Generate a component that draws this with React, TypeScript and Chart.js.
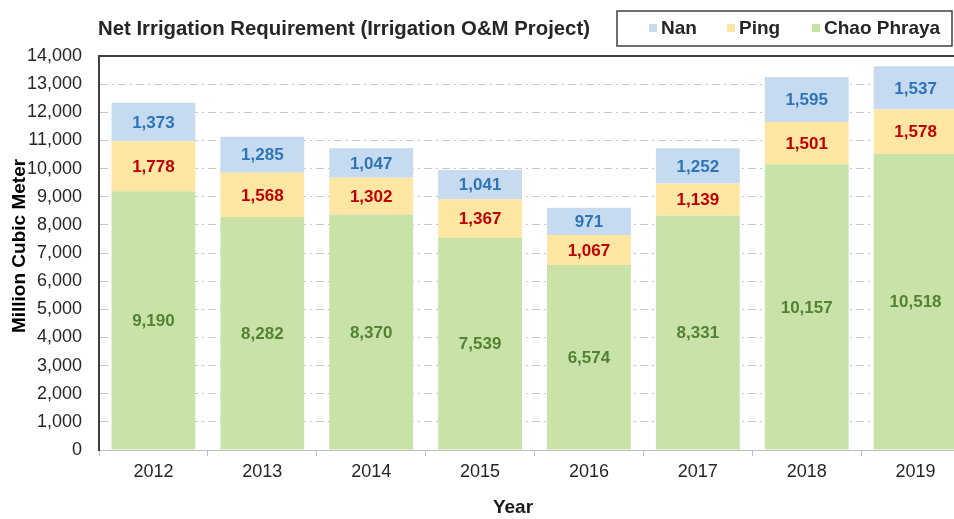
import React, { useEffect, useRef } from "react";
import { Chart, registerables } from "chart.js";

Chart.register(...registerables);

const years = ["2012", "2013", "2014", "2015", "2016", "2017", "2018", "2019"];
const chaoPhraya = [9190, 8282, 8370, 7539, 6574, 8331, 10157, 10518];
const ping = [1778, 1568, 1302, 1367, 1067, 1139, 1501, 1578];
const nan = [1373, 1285, 1047, 1041, 971, 1252, 1595, 1537];
const yTicks = [0, 1000, 2000, 3000, 4000, 5000, 6000, 7000, 8000, 9000, 10000, 11000, 12000, 13000, 14000];

const titleText = "Net Irrigation Requirement (Irrigation O&M Project)";
const xTitle = "Year";
const yTitle = "Million Cubic Meter";
const legendItems = [
  { label: "Nan", color: "#c6dbf0" },
  { label: "Ping", color: "#ffe7a3" },
  { label: "Chao Phraya", color: "#c8e2a8" },
];

const FONT = "'Liberation Sans', Arial, sans-serif";
const fmt = (v: number) => v.toLocaleString("en-US");

export default function App() {
  const ref = useRef<HTMLCanvasElement>(null);
  useEffect(() => {
    if (!ref.current) return;
    const labelColors = ["#548235", "#c00000", "#2e75b6"];
    const overlay = {
      id: "overlay",
      afterDraw(chart: any) {
        const ctx = chart.ctx;
        const area = chart.chartArea;
        ctx.save();
        // top border of plot
        ctx.strokeStyle = "#404040";
        ctx.lineWidth = 2;
        ctx.beginPath();
        ctx.moveTo(area.left - 1, area.top);
        ctx.lineTo(area.right, area.top);
        ctx.stroke();
        // data labels
        ctx.textAlign = "center";
        ctx.textBaseline = "middle";
        ctx.font = `bold 17px ${FONT}`;
        chart.data.datasets.forEach((ds: any, di: number) => {
          const meta = chart.getDatasetMeta(di);
          ctx.fillStyle = labelColors[di];
          meta.data.forEach((bar: any, i: number) => {
            const cy = (bar.y + bar.base) / 2;
            ctx.fillText(fmt(ds.data[i]), bar.x, cy + 1);
          });
        });
        // axis titles
        ctx.font = `bold 19px ${FONT}`;
        ctx.fillStyle = "#1a1a1a";
        ctx.fillText(xTitle, 513, 508);
        ctx.save();
        ctx.translate(19.5, 246);
        ctx.rotate(-Math.PI / 2);
        ctx.fillStyle = "#000";
        ctx.fillText(yTitle, 0, 0);
        ctx.restore();
        // title
        ctx.textAlign = "left";
        ctx.fillStyle = "#262626";
        ctx.font = `bold 20px ${FONT}`;
        const tw = ctx.measureText(titleText).width;
        ctx.save();
        ctx.translate(98, 29);
        ctx.scale(492 / tw, 1);
        ctx.fillText(titleText, 0, 0);
        ctx.restore();
        // legend box
        ctx.strokeStyle = "#404040";
        ctx.lineWidth = 1.5;
        ctx.strokeRect(617, 11, 335, 35);
        const xs = [649, 727, 812];
        ctx.font = `bold 19px ${FONT}`;
        legendItems.forEach((it, k) => {
          ctx.fillStyle = it.color;
          ctx.fillRect(xs[k], 24, 8, 8);
          ctx.fillStyle = "#262626";
          ctx.fillText(it.label, xs[k] + 12, 29);
        });
        ctx.restore();
      },
    };
    const chart = new Chart(ref.current, {
      type: "bar",
      data: {
        labels: years,
        datasets: [
          { label: "Chao Phraya", data: chaoPhraya, backgroundColor: legendItems[2].color },
          { label: "Ping", data: ping, backgroundColor: legendItems[1].color },
          { label: "Nan", data: nan, backgroundColor: legendItems[0].color },
        ],
      },
      options: {
        animation: false,
        responsive: false,
        devicePixelRatio: 1,
        layout: { padding: { top: 56, left: 0, right: 10, bottom: 0 } },
        datasets: { bar: { barPercentage: 0.77, categoryPercentage: 1 } },
        plugins: { legend: { display: false }, tooltip: { enabled: false } },
        scales: {
          x: {
            stacked: true,
            afterFit: (s: any) => { s.height = 69; },
            grid: { drawOnChartArea: false, drawTicks: true, tickLength: 6, color: "#bfbfbf", offset: true },
            border: { color: "#bfbfbf", width: 1 },
            ticks: { color: "#262626", font: { family: FONT, size: 18 }, padding: 5 },
            title: { display: false },
          },
          y: {
            stacked: true,
            min: 0,
            max: 14000,
            z: 1,
            afterFit: (s: any) => { s.width = 99; },
            afterBuildTicks: (s: any) => { s.ticks = yTicks.map((v) => ({ value: v })); },
            grid: {
              drawTicks: false,
              tickLength: 0,
              color: (c: any) => (c.tick && (c.tick.value === 0 || c.tick.value === 14000) ? "rgba(0,0,0,0)" : "#c8c8c8"),
              lineWidth: 1,
            },
            border: { color: "#404040", width: 2, dash: [8, 4, 2, 4] },
            ticks: { color: "#262626", font: { family: FONT, size: 18 }, padding: 17, callback: (v: any) => fmt(Number(v)) },
            title: { display: false },
          },
        },
      },
      plugins: [overlay],
    } as any);
    return () => chart.destroy();
  }, []);
  return (
    <div style={{ position: "fixed", left: 0, top: 0, width: 980, height: 519, overflow: "hidden", background: "#fff" }}>
      <canvas ref={ref} width={980} height={519} style={{ width: 980, height: 519, display: "block" }} />
    </div>
  );
}
